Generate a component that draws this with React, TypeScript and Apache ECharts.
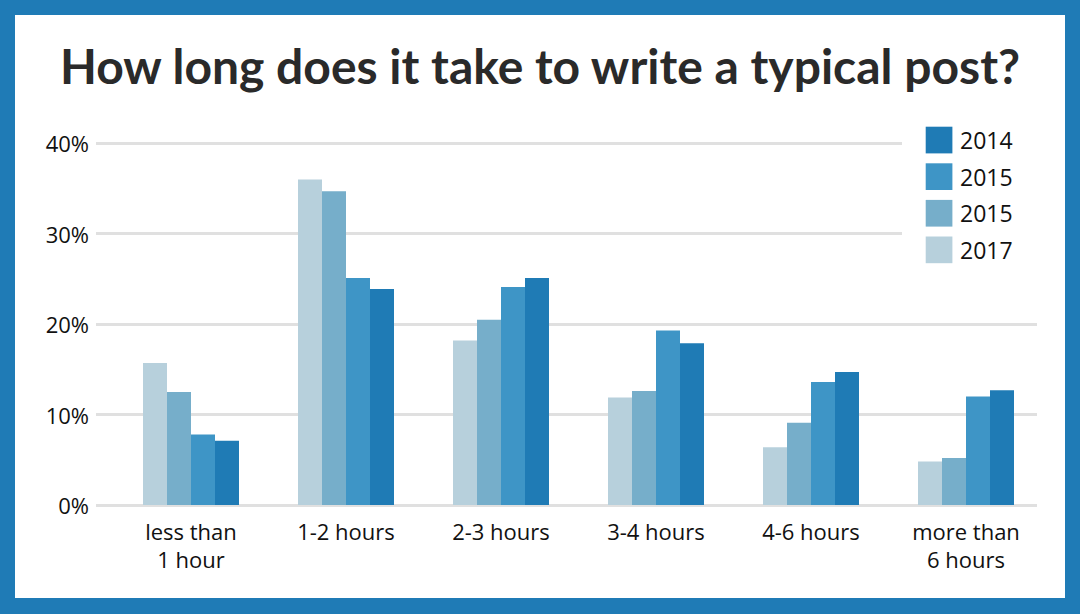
import React, { useEffect, useRef } from "react";
import * as echarts from "echarts";

const categories = ["less than\n1 hour", "1-2 hours", "2-3 hours", "3-4 hours", "4-6 hours", "more than\n6 hours"];
const seriesNames = ["2017", "2015", "2015", "2014"];
const values2017 = [15.7, 36.0, 18.2, 11.9, 6.4, 4.8];
const values2015b = [12.5, 34.7, 20.5, 12.6, 9.1, 5.2];
const values2015a = [7.8, 25.1, 24.1, 19.3, 13.6, 12.0];
const values2014 = [7.1, 23.9, 25.1, 17.9, 14.7, 12.7];
const seriesValues = [values2017, values2015b, values2015a, values2014];
const colors = ["#b7d0dc", "#76aeca", "#3e95c6", "#1f7bb5"];
const legendOrder = [3, 2, 1, 0];
const yTicks = [0, 10, 20, 30, 40];

export default function App() {
  const ref = useRef<HTMLDivElement>(null);
  useEffect(() => {
    if (!ref.current) return;
    const chart = echarts.init(ref.current, undefined, { renderer: "svg" });
    const top = 128.3;
    const bottom = 93;
    const legendEls: any[] = [
      {
        type: "rect",
        z: 10,
        shape: { x: 887, y: 100, width: 135, height: 160 },
        style: { fill: "#ffffff" },
      },
    ];
    legendOrder.forEach((si, i) => {
      const y = 111.7 + i * 36.6;
      legendEls.push({
        type: "rect",
        z: 11,
        shape: { x: 910.7, y, width: 26.7, height: 26.7 },
        style: { fill: colors[si] },
      });
      legendEls.push({
        type: "text",
        z: 11,
        x: 945,
        y: y + 13.5,
        style: {
          text: seriesNames[si],
          font: "23px 'Open Sans'",
          fill: "#111",
          verticalAlign: "middle",
          align: "left",
        },
      });
    });
    chart.setOption({
      animation: false,
      backgroundColor: "#ffffff",
      graphic: [
        {
          type: "text",
          x: 525,
          y: 50,
          style: {
            text: "How long does it take to write a typical post?",
            font: "bold 48px Lato",
            fill: "#2a2a2a",
            align: "center",
            verticalAlign: "middle",
          },
        },
        ...legendEls,
      ],
      grid: [
        { left: 81, right: 28, top, bottom },
        { left: 98.5, right: 21.5, top, bottom },
      ],
      xAxis: [
        { type: "value", gridIndex: 0, show: false, min: 0, max: 1 },
        {
          type: "category",
          gridIndex: 1,
          data: categories,
          axisLine: { show: false },
          axisTick: { show: false },
          axisLabel: {
            margin: 12,
            fontFamily: "Open Sans",
            fontSize: 22,
            lineHeight: 28,
            color: "#111",
          },
        },
      ],
      yAxis: [
        {
          type: "value",
          gridIndex: 0,
          min: 0,
          max: 40,
          interval: 10,
          axisLine: { show: false },
          axisTick: { show: false },
          axisLabel: {
            margin: 7,
            fontFamily: "Open Sans",
            fontSize: 22,
            color: "#111",
            formatter: (v: number) => (yTicks.includes(v) ? v + "%" : ""),
          },
          splitLine: { lineStyle: { color: "#e0e0e0", width: 3 } },
        },
        { type: "value", gridIndex: 1, min: 0, max: 40, show: false },
      ],
      series: seriesValues.map((data, i) => ({
        type: "bar",
        name: seriesNames[i],
        xAxisIndex: 1,
        yAxisIndex: 1,
        data,
        barWidth: 24,
        barGap: "0%",
        itemStyle: { color: colors[i] },
        z: 3,
      })),
    });
    return () => chart.dispose();
  }, []);
  return (
    <div style={{ position: "fixed", left: 0, top: 0, width: 1080, height: 614, background: "#1f7bb6" }}>
      <div
        ref={ref}
        style={{ position: "absolute", left: 15, top: 15, width: 1050, height: 583, background: "#ffffff" }}
      />
    </div>
  );
}
